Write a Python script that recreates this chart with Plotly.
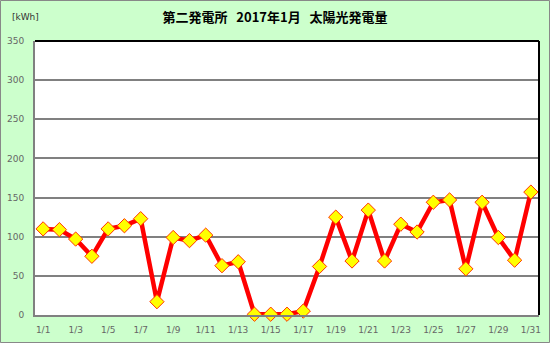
import plotly.graph_objects as go

days = [f"1/{d}" for d in range(1, 32)]
values = [110, 109, 97, 75, 110, 114, 123, 17, 99, 95, 102, 63, 68, 1, 1, 1, 5, 62,
          125, 69, 134, 69, 116, 106, 144, 147, 59, 144, 99, 70, 157]
tick_labels = [f"1/{d}" for d in range(1, 32, 2)]
y_ticks = [0, 50, 100, 150, 200, 250, 300, 350]

W, H = 550, 343
ml, mr, mt, mb = 35, 11, 41, 28
pw, ph = W - ml - mr, H - mt - mb

fig = go.Figure()
fig.add_trace(go.Scatter(
    x=days, y=values, mode="lines+markers",
    line=dict(color="#FF0000", width=4.5),
    marker=dict(symbol="diamond", size=11, color="#FFFF00",
                line=dict(color="#FF3300", width=1)),
    showlegend=False, cliponaxis=False,
))

fig.update_layout(
    width=W, height=H,
    margin=dict(l=ml, r=mr, t=mt, b=mb, autoexpand=False),
    paper_bgcolor="#CCFFCC", plot_bgcolor="#FFFFFF",
    title=dict(text="<b>第二発電所&nbsp;&nbsp;&nbsp;2017年1月&nbsp;&nbsp;&nbsp;太陽光発電量</b>",
               x=0.5, xanchor="center", y=1 - 17 / H, yanchor="middle",
               font=dict(family="Noto Sans CJK JP", size=13, color="#000000")),
    xaxis=dict(type="category", tickvals=tick_labels, ticktext=tick_labels,
               range=[-0.5, 30.5], showgrid=False, zeroline=False,
               showline=True, linecolor="#808080", linewidth=2,
               ticks="", ticklabelstandoff=5, automargin=False,
               tickfont=dict(family="DejaVu Sans", size=9, color="#666666")),
    yaxis=dict(range=[0, 350], tickvals=y_ticks, showgrid=True,
               gridcolor="#808080", gridwidth=1.5, zeroline=False,
               showline=True, linecolor="#808080", linewidth=2,
               ticks="", ticklabelstandoff=7, automargin=False,
               tickfont=dict(family="DejaVu Sans", size=9, color="#666666")),
    annotations=[dict(text="[kWh]", xref="paper", yref="paper",
                      x=-25 / pw, y=1 + 24 / ph, xanchor="left", yanchor="middle",
                      showarrow=False,
                      font=dict(family="DejaVu Sans", size=9, color="#333333"))],
    shapes=[
        dict(type="line", xref="paper", yref="paper", x0=0, x1=1, y0=1, y1=1,
             line=dict(color="#000000", width=2)),
        dict(type="line", xref="paper", yref="paper", x0=1, x1=1, y0=0, y1=1,
             line=dict(color="#000000", width=2)),
        dict(type="rect", xref="paper", yref="paper",
             x0=-(ml - 0.5) / pw, x1=1 + (mr - 0.5) / pw,
             y0=-(mb - 0.5) / ph, y1=1 + (mt - 0.5) / ph,
             line=dict(color="#888888", width=1)),
    ],
)

fig.write_html("out.html")
